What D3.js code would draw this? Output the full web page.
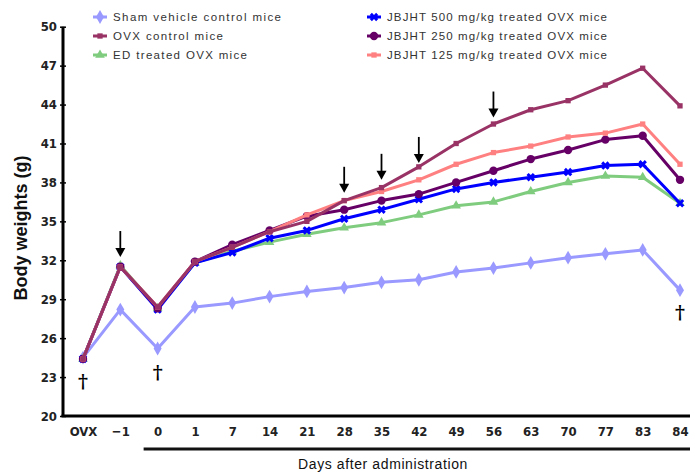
<!DOCTYPE html>
<html>
<head>
<meta charset="utf-8">
<script src="https://cdn.jsdelivr.net/npm/d3@7"></script>
<style>
  body { margin: 0; background: #fff; }
  svg { display: block; }
  .tick-lab { font-family: "Liberation Sans Narrow", "DejaVu Sans Condensed", Arial, sans-serif; font-weight: bold; font-size: 13px; fill: #222; }
  .legend text { font-family: Arial, "Liberation Sans", sans-serif; font-size: 11.5px; fill: #333; }
</style>
</head>
<body>
<div id="chart"></div>
<script>
// categories on the x axis
var days = ["OVX", "-1", "0", "1", "7", "14", "21", "28", "35", "42", "49", "56", "63", "70", "77", "83", "84"];
var dayLabels = ["OVX", "\u22121", "0", "1", "7", "14", "21", "28", "35", "42", "49", "56", "63", "70", "77", "83", "84"];
var yTicks = [20, 23, 26, 29, 32, 35, 38, 41, 44, 47, 50];

// body weights (g) per group
var sham    = [24.5, 28.2, 25.2, 28.4, 28.7, 29.2, 29.6, 29.9, 30.3, 30.5, 31.1, 31.4, 31.8, 32.2, 32.5, 32.8, 29.7];
var ovx     = [24.4, 31.5, 28.4, 31.9, 33.0, 34.2, 35.0, 36.6, 37.6, 39.2, 41.0, 42.5, 43.6, 44.3, 45.5, 46.8, 43.9];
var ed      = [24.4, 31.6, 28.3, 31.8, 32.7, 33.4, 34.0, 34.5, 34.9, 35.5, 36.2, 36.5, 37.3, 38.0, 38.5, 38.4, 36.4];
var jb500   = [24.4, 31.5, 28.2, 31.8, 32.6, 33.7, 34.3, 35.2, 35.9, 36.7, 37.5, 38.0, 38.4, 38.8, 39.3, 39.4, 36.4];
var jb250   = [24.4, 31.5, 28.3, 31.9, 33.2, 34.3, 35.4, 35.9, 36.6, 37.1, 38.0, 38.9, 39.8, 40.5, 41.3, 41.6, 38.2];
var jb125   = [24.4, 31.5, 28.4, 31.9, 33.0, 34.2, 35.5, 36.6, 37.3, 38.2, 39.4, 40.3, 40.8, 41.5, 41.8, 42.5, 39.4];

// arrows (tip value) and daggers
var arrowDays = ["-1", "28", "35", "42", "56"];
var arrowTips = [32.25, 37.2, 38.2, 39.5, 43.0];
var daggerDays = ["OVX", "0", "84"];
var daggerVals = [22.7, 23.4, 28.0];

var series = [
  { name: "Sham vehicle control mice", values: sham, color: "#9999ff", shape: "diamond" },
  { name: "ED treated OVX mice", values: ed, color: "#7fcc7f", shape: "triangle" },
  { name: "JBJHT 500 mg/kg treated OVX mice", values: jb500, color: "#0000ff", shape: "star" },
  { name: "JBJHT 250 mg/kg treated OVX mice", values: jb250, color: "#660066", shape: "circle" },
  { name: "JBJHT 125 mg/kg treated OVX mice", values: jb125, color: "#ff8080", shape: "square" },
  { name: "OVX control mice", values: ovx, color: "#993366", shape: "square" }
];

var W = 690, H = 472;
var svg = d3.select("#chart").append("svg").attr("width", W).attr("height", H);

var x = d3.scalePoint().domain(days).range([83, 680]);
var y = d3.scaleLinear().domain([20, 50]).range([416, 26.7]);

// y axis
var yAxis = svg.append("g")
  .attr("transform", "translate(63,0)")
  .call(d3.axisLeft(y).tickValues(yTicks).tickSize(3).tickPadding(5));
yAxis.select(".domain").attr("stroke", "#000").attr("stroke-width", 3).attr("d", "M0," + y(50) + "V" + y(20));
yAxis.selectAll(".tick line").attr("x1", 3).attr("x2", -3).attr("stroke-width", 1.5);
yAxis.selectAll(".tick text").attr("class", "tick-lab").attr("text-anchor", "end").attr("x", -6);

// x axis
var xAxis = svg.append("g")
  .attr("transform", "translate(0,416)")
  .call(d3.axisBottom(x).tickSize(0).tickPadding(11).tickFormat(function (d, i) { return dayLabels[i]; }));
xAxis.select(".domain").attr("stroke", "#000").attr("stroke-width", 3).attr("d", "M61.5,0H690");
xAxis.selectAll(".tick text").attr("class", "tick-lab");

// bar under the administration days
svg.append("line")
  .attr("x1", x("0") - 14).attr("x2", 690)
  .attr("y1", 449).attr("y2", 449)
  .attr("stroke", "#111").attr("stroke-width", 3);

svg.append("text")
  .attr("x", 383).attr("y", 469)
  .attr("text-anchor", "middle")
  .style("font-family", "Arial, 'Liberation Sans', sans-serif")
  .style("font-size", "14px")
  .style("letter-spacing", "0.6px")
  .style("fill", "#111")
  .text("Days after administration");

svg.append("text")
  .attr("transform", "translate(27,228) rotate(-90)")
  .attr("text-anchor", "middle")
  .style("font-family", "Arial, 'Liberation Sans', sans-serif")
  .style("font-size", "18px")
  .style("font-weight", "bold")
  .style("fill", "#111")
  .text("Body weights (g)");

// markers
var symbolFor = {
  diamond: d3.symbol().type(d3.symbolDiamond).size(55),
  triangle: d3.symbol().type(d3.symbolTriangle).size(40),
  star: d3.symbol().type(d3.symbolCross).size(45),
  circle: d3.symbol().type(d3.symbolCircle).size(55),
  square: d3.symbol().type(d3.symbolSquare).size(28)
};

var line = d3.line()
  .x(function (d, i) { return x(days[i]); })
  .y(function (d) { return y(d); });

series.forEach(function (s) {
  var g = svg.append("g");
  g.append("path")
    .datum(s.values)
    .attr("fill", "none")
    .attr("stroke", s.color)
    .attr("stroke-width", 3)
    .attr("stroke-linejoin", "round")
    .attr("d", line);
  g.selectAll("path.mk")
    .data(s.values)
    .enter().append("path")
    .attr("class", "mk")
    .attr("transform", function (d, i) { return "translate(" + x(days[i]) + "," + y(d) + ")" + (s.shape == "star" ? " rotate(45)" : ""); })
    .attr("d", symbolFor[s.shape])
    .attr("fill", s.color);
});

// arrows
arrowDays.forEach(function (d, i) {
  var ax = x(d), tip = y(arrowTips[i]);
  svg.append("line")
    .attr("x1", ax).attr("x2", ax)
    .attr("y1", tip - 26).attr("y2", tip - 6)
    .attr("stroke", "#000").attr("stroke-width", 1.8);
  svg.append("path")
    .attr("d", "M" + (ax - 5) + "," + (tip - 9) + "L" + (ax + 5) + "," + (tip - 9) + "L" + ax + "," + tip + "Z")
    .attr("fill", "#000");
});

// daggers
daggerDays.forEach(function (d, i) {
  svg.append("text")
    .attr("x", x(d)).attr("y", y(daggerVals[i]) + 7)
    .attr("text-anchor", "middle")
    .style("font-family", "'DejaVu Serif', serif")
    .style("font-size", "19px")
    .style("font-weight", "bold")
    .text("\u2020");
});

// legend
var legendItems = [
  { name: "Sham vehicle control mice", color: "#9999ff", shape: "diamond", lx: 100, ly: 17, w: 168 },
  { name: "OVX control mice", color: "#993366", shape: "square", lx: 100, ly: 36, w: 110 },
  { name: "ED treated OVX mice", color: "#7fcc7f", shape: "triangle", lx: 100, ly: 55, w: 134 },
  { name: "JBJHT 500 mg/kg treated OVX mice", color: "#0000ff", shape: "star", lx: 374, ly: 17, w: 220 },
  { name: "JBJHT 250 mg/kg treated OVX mice", color: "#660066", shape: "circle", lx: 374, ly: 36, w: 220 },
  { name: "JBJHT 125 mg/kg treated OVX mice", color: "#ff8080", shape: "square", lx: 374, ly: 55, w: 220 }
];
var leg = svg.append("g").attr("class", "legend");
legendItems.forEach(function (it) {
  leg.append("line")
    .attr("x1", it.lx - 7).attr("x2", it.lx + 7)
    .attr("y1", it.ly).attr("y2", it.ly)
    .attr("stroke", it.color).attr("stroke-width", 3);
  leg.append("path")
    .attr("transform", "translate(" + it.lx + "," + it.ly + ")" + (it.shape == "star" ? " rotate(45)" : ""))
    .attr("d", symbolFor[it.shape])
    .attr("fill", it.color);
  leg.append("text")
    .attr("x", it.lx + 13).attr("y", it.ly + 4)
    .attr("textLength", it.w)
    .attr("lengthAdjust", "spacing")
    .text(it.name);
});
</script>
</body>
</html>
